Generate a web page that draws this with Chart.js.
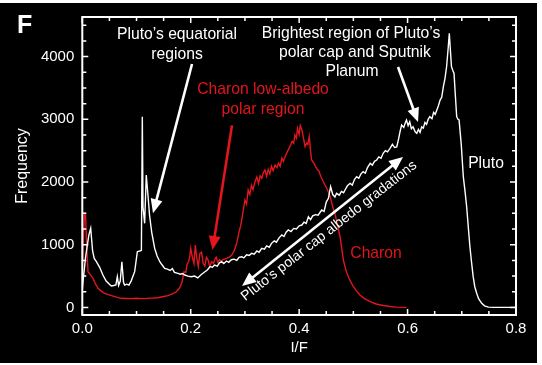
<!DOCTYPE html>
<html>
<head>
<meta charset="utf-8">
<script src="https://cdn.jsdelivr.net/npm/chart.js@4/dist/chart.umd.min.js"></script>
<style>
html,body{margin:0;padding:0;background:#fff;}
canvas{display:block;}
</style>
</head>
<body>
<canvas id="c" width="542" height="365"></canvas>
<script>
// ---- Data ----
const plutoX = [0.000,0.006,0.012,0.0155,0.019,0.022,0.026,0.032,0.038,0.044,0.050,0.0535,0.058,0.062,0.0646,0.067,0.070,0.073,0.076,0.078,0.082,0.086,0.090,0.0966,0.1015,0.106,0.109,0.1107,0.112,0.115,0.118,0.121,0.124,0.128,0.1335,0.138,0.143,0.147,0.152,0.157,0.162,0.166,0.170,0.1765,0.181,0.185,0.189,0.195,0.201,0.207,0.213,0.219,0.225,0.231,0.2356,0.240,0.244,0.249,0.253,0.257,0.261,0.266,0.270,0.275,0.280,0.285,0.289,0.294,0.298,0.303,0.308,0.3125,0.317,0.322,0.326,0.331,0.336,0.340,0.345,0.349,0.354,0.358,0.363,0.368,0.372,0.376,0.380,0.385,0.390,0.395,0.400,0.405,0.409,0.413,0.417,0.421,0.425,0.430,0.435,0.4416,0.446,0.450,0.454,0.458,0.462,0.466,0.469,0.474,0.478,0.482,0.4846,0.489,0.494,0.498,0.502,0.506,0.510,0.514,0.518,0.522,0.526,0.531,0.535,0.539,0.543,0.547,0.551,0.555,0.559,0.563,0.5676,0.572,0.576,0.580,0.583,0.586,0.589,0.593,0.596,0.598,0.601,0.604,0.607,0.610,0.614,0.617,0.620,0.623,0.626,0.629,0.632,0.635,0.638,0.641,0.645,0.648,0.651,0.654,0.657,0.660,0.663,0.666,0.669,0.672,0.675,0.677,0.679,0.681,0.6835,0.6857,0.688,0.6906,0.693,0.695,0.699,0.7028,0.706,0.709,0.712,0.715,0.718,0.721,0.724,0.7275,0.731,0.7367,0.742,0.749,0.760,0.800];
const plutoY = [300,800,1150,1262,900,780,729,640,517,420,370,341,350,360,490,350,420,729,400,357,370,357,420,570,889,900,910,3042,1600,1341,2112,1800,1474,1200,942,820,729,680,623,610,590,620,560,543,530,540,517,500,490,500,470,520,560,600,650,640,676,660,710,729,700,740,720,760,770,750,800,809,790,840,830,863,850,900,880,942,930,980,960,1022,1060,1040,1110,1155,1130,1200,1235,1210,1260,1250,1300,1314,1360,1340,1447,1400,1460,1480,1470,1553,1530,1680,1740,1925,1800,1760,1820,1790,1850,1830,1873,1940,1979,1950,2040,2085,2060,2130,2165,2140,2230,2298,2270,2330,2351,2400,2380,2458,2500,2480,2538,2600,2550,2560,2670,2800,2909,2870,2950,2989,2900,2960,2850,2880,2800,2777,2840,2790,2880,2860,2950,2920,3000,3042,3010,3110,3080,3149,3220,3308,3350,3520,3650,3839,4150,4372,4100,3839,3780,3733,3400,3042,3000,2989,2600,2085,1850,1606,1280,968,720,490,330,225,140,65,25,5,0,0];

const charonX = [0.000,0.002,0.004,0.006,0.008,0.0105,0.015,0.0197,0.024,0.029,0.035,0.0413,0.048,0.054,0.063,0.072,0.081,0.0905,0.100,0.108,0.115,0.123,0.131,0.1396,0.148,0.158,0.166,0.1734,0.179,0.182,0.184,0.1876,0.191,0.193,0.196,0.198,0.200,0.203,0.206,0.2085,0.211,0.214,0.217,0.220,0.223,0.226,0.229,0.232,0.235,0.2387,0.242,0.245,0.247,0.250,0.253,0.256,0.259,0.262,0.2664,0.271,0.2756,0.280,0.2848,0.289,0.292,0.294,0.297,0.300,0.303,0.306,0.309,0.312,0.315,0.3186,0.322,0.325,0.328,0.331,0.334,0.337,0.340,0.343,0.346,0.349,0.352,0.3555,0.359,0.362,0.365,0.368,0.371,0.374,0.378,0.383,0.387,0.390,0.392,0.395,0.397,0.400,0.402,0.405,0.408,0.411,0.414,0.416,0.4187,0.421,0.423,0.427,0.432,0.436,0.4403,0.4446,0.4508,0.4569,0.462,0.466,0.471,0.4754,0.4785,0.4815,0.486,0.4907,0.495,0.500,0.506,0.512,0.520,0.5307,0.542,0.555,0.568,0.580,0.598];
const charonY = [600,1100,1500,1480,1000,570,520,464,380,305,260,225,205,188,165,145,142,140,145,140,140,148,150,155,170,188,215,250,305,360,410,570,560,680,729,800,942,800,700,995,800,649,860,880,700,660,800,760,650,729,700,780,800,720,760,740,760,770,783,800,836,900,1022,1200,1300,1394,1550,1713,1650,1873,1800,1950,1880,2005,2080,1980,2100,2060,2150,2192,2090,2200,2130,2250,2180,2271,2230,2300,2250,2380,2330,2404,2480,2564,2650,2620,2750,2700,2856,2760,2900,2830,2700,2564,2620,2600,2723,2500,2351,2300,2218,2180,2085,2005,1900,1780,1600,1500,1300,1128,950,756,600,490,410,330,260,198,145,91,55,30,15,5,0];

// Tick values
const xMajorTicks = [0, 0.2, 0.4, 0.6, 0.8];
const xMinorTicks = [0.05, 0.1, 0.15, 0.25, 0.3, 0.35, 0.45, 0.5, 0.55, 0.65, 0.7, 0.75];
const yMajorTicks = [0, 1000, 2000, 3000, 4000];
const yMinorTicks = [250, 500, 750, 1250, 1500, 1750, 2250, 2500, 2750, 3250, 3500, 3750, 4250, 4500];

// Annotation texts (positions in data units)
const notes = [
  {text: 'Pluto\u2019s equatorial', x: 0.1747, y: 4345, color: '#ffffff'},
  {text: 'regions', x: 0.1747, y: 4026, color: '#ffffff'},
  {text: 'Charon low-albedo', x: 0.3333, y: 3467, color: '#e3151d'},
  {text: 'polar region', x: 0.3333, y: 3148, color: '#e3151d'},
  {text: 'Brightest region of Pluto\u2019s', x: 0.4957, y: 4361, color: '#ffffff'},
  {text: 'polar cap and Sputnik', x: 0.503, y: 4058, color: '#ffffff'},
  {text: 'Planum', x: 0.4975, y: 3755, color: '#ffffff'},
  {text: 'Charon', x: 0.5418, y: 864, color: '#e3151d'},
  {text: 'Pluto', x: 0.7447, y: 2287, color: '#ffffff'}
];
const arrows = [
  {x1: 0.2024, y1: 3882, x2: 0.1304, y2: 1503, color: '#ffffff', both: false},
  {x1: 0.2761, y1: 2904, x2: 0.2402, y2: 917, color: '#e3151d', both: false},
  {x1: 0.5824, y1: 3834, x2: 0.6193, y2: 2957, color: '#ffffff', both: false},
  {x1: 0.2946, y1: 341, x2: 0.5916, y2: 2399, color: '#ffffff', both: true}
];
const slantNote = {text: 'Pluto\u2019s polar cap albedo gradations', x: 0.4551, y: 1219, angleDeg: -38};

const FONT = '"Liberation Sans", Arial, sans-serif';

function toXY(xs, ys){ return xs.map((v,i)=>({x:v, y:ys[i]})); }

function drawArrow(ctx, x1, y1, x2, y2, color, both){
  const ang = Math.atan2(y2-y1, x2-x1);
  const hl = 14, hw = 6;
  ctx.save();
  ctx.strokeStyle = color; ctx.fillStyle = color; ctx.lineWidth = 2.6; ctx.lineCap = 'butt';
  const sx = both ? x1 + Math.cos(ang)*hl*0.8 : x1, sy = both ? y1 + Math.sin(ang)*hl*0.8 : y1;
  const ex = x2 - Math.cos(ang)*hl*0.8, ey = y2 - Math.sin(ang)*hl*0.8;
  ctx.beginPath(); ctx.moveTo(sx, sy); ctx.lineTo(ex, ey); ctx.stroke();
  const head = (tx, ty, a) => {
    ctx.beginPath();
    ctx.moveTo(tx, ty);
    ctx.lineTo(tx - Math.cos(a)*hl + Math.sin(a)*hw, ty - Math.sin(a)*hl - Math.cos(a)*hw);
    ctx.lineTo(tx - Math.cos(a)*hl - Math.sin(a)*hw, ty - Math.sin(a)*hl + Math.cos(a)*hw);
    ctx.closePath(); ctx.fill();
  };
  head(x2, y2, ang);
  if (both) head(x1, y1, ang + Math.PI);
  ctx.restore();
}

const figPlugin = {
  id: 'fig',
  beforeDraw(chart){
    const ctx = chart.ctx;
    ctx.save();
    ctx.fillStyle = '#ffffff'; ctx.fillRect(0, 0, chart.width, chart.height);
    ctx.fillStyle = '#000000'; ctx.fillRect(0, 3, 537, 360);
    ctx.fillStyle = '#ffffff';
    ctx.font = 'bold 25px ' + FONT;
    ctx.textAlign = 'left'; ctx.textBaseline = 'alphabetic';
    ctx.fillText('F', 17, 33);
    ctx.restore();
  },
  afterDraw(chart){
    const ctx = chart.ctx, a = chart.chartArea, xs = chart.scales.x, ys = chart.scales.y;
    ctx.save();
    // frame
    ctx.strokeStyle = '#ffffff'; ctx.lineWidth = 2;
    ctx.strokeRect(a.left, a.top, a.right - a.left, a.bottom - a.top);
    ctx.lineWidth = 1.5;
    const tick = (list, len) => {
      list.forEach(v => {
        const px = xs.getPixelForValue(v);
        ctx.beginPath();
        ctx.moveTo(px, a.bottom); ctx.lineTo(px, a.bottom - len);
        ctx.moveTo(px, a.top); ctx.lineTo(px, a.top + len);
        ctx.stroke();
      });
    };
    const ytick = (list, len) => {
      list.forEach(v => {
        const py = ys.getPixelForValue(v);
        ctx.beginPath();
        ctx.moveTo(a.left, py); ctx.lineTo(a.left + len, py);
        ctx.moveTo(a.right, py); ctx.lineTo(a.right - len, py);
        ctx.stroke();
      });
    };
    tick(xMajorTicks, 6); tick(xMinorTicks, 4);
    ytick(yMajorTicks, 6); ytick(yMinorTicks, 4);

    // arrows
    arrows.forEach(ar => drawArrow(ctx, xs.getPixelForValue(ar.x1), ys.getPixelForValue(ar.y1),
      xs.getPixelForValue(ar.x2), ys.getPixelForValue(ar.y2), ar.color, ar.both));

    // notes
    ctx.font = '15.7px ' + FONT;
    ctx.textAlign = 'center'; ctx.textBaseline = 'middle';
    notes.forEach(n => { ctx.fillStyle = n.color; ctx.fillText(n.text, xs.getPixelForValue(n.x), ys.getPixelForValue(n.y)); });
    ctx.save();
    ctx.translate(xs.getPixelForValue(slantNote.x), ys.getPixelForValue(slantNote.y));
    ctx.rotate(slantNote.angleDeg * Math.PI / 180);
    ctx.font = '14px ' + FONT;
    ctx.fillStyle = '#ffffff';
    ctx.fillText(slantNote.text, 0, 0);
    ctx.restore();
    ctx.restore();
  }
};

new Chart(document.getElementById('c'), {
  type: 'line',
  data: {
    datasets: [
      {label: 'Pluto', data: toXY(plutoX, plutoY), borderColor: '#ffffff', borderWidth: 1.4, pointRadius: 0, tension: 0, fill: false},
      {label: 'Charon', data: toXY(charonX, charonY), borderColor: '#e3151d', borderWidth: 1.4, pointRadius: 0, tension: 0, fill: false}
    ]
  },
  options: {
    responsive: false,
    devicePixelRatio: 1,
    animation: false,
    layout: {padding: {left: 0, right: 26, top: 17, bottom: 0}},
    plugins: {legend: {display: false}, tooltip: {enabled: false}},
    scales: {
      x: {
        type: 'linear', min: 0, max: 0.8,
        grid: {display: false, drawTicks: false},
        border: {display: false},
        afterBuildTicks: s => { s.ticks = xMajorTicks.map(v => ({value: v})); },
        afterFit: s => { s.height = 50; },
        ticks: {color: '#ffffff', font: {family: FONT, size: 15}, padding: 5, maxRotation: 0,
          callback: v => Number(v).toFixed(1)},
        title: {display: true, text: 'I/F', color: '#ffffff', font: {family: FONT, size: 15}, padding: {top: 0, bottom: 8}}
      },
      y: {
        type: 'linear', min: -121, max: 4632,
        grid: {display: false, drawTicks: false},
        border: {display: false},
        afterBuildTicks: s => { s.ticks = yMajorTicks.map(v => ({value: v})); },
        afterFit: s => { s.width = 82.3; },
        ticks: {color: '#ffffff', font: {family: FONT, size: 15}, padding: 8,
          callback: v => String(v)},
        title: {display: true, text: 'Frequency', color: '#ffffff', font: {family: FONT, size: 16}, padding: {top: 13, bottom: 0}}
      }
    }
  },
  plugins: [figPlugin]
});
</script>
</body>
</html>
